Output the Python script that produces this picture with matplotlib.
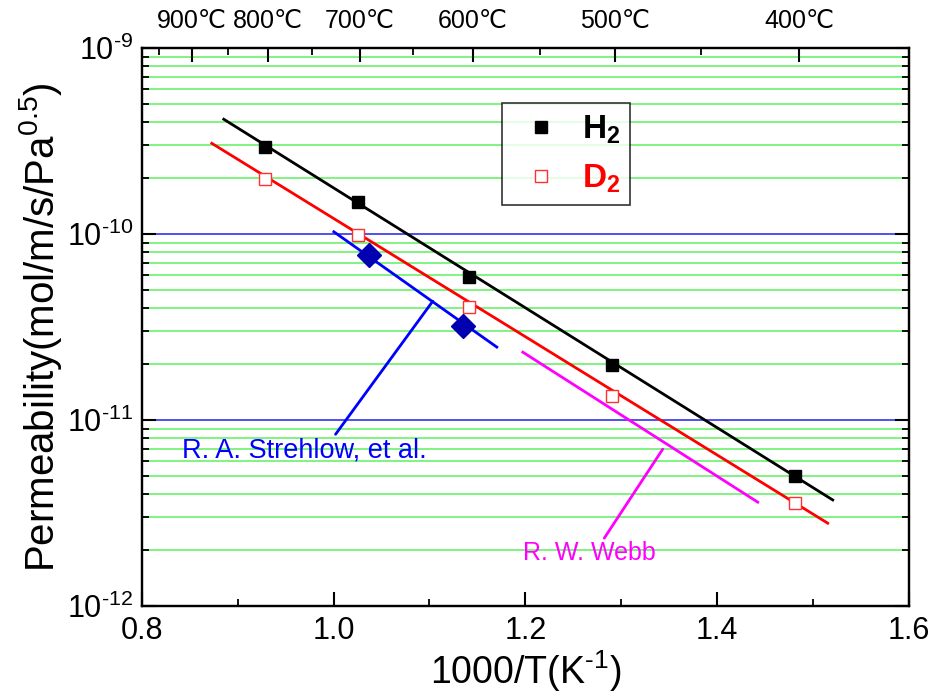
import numpy as np
import matplotlib
matplotlib.use("Agg")
import matplotlib.pyplot as plt
from matplotlib.ticker import FixedLocator, LogLocator, NullFormatter, FuncFormatter

plt.rcParams['font.family'] = ['Liberation Sans', 'DejaVu Sans']
plt.rcParams['mathtext.fontset'] = 'custom'
plt.rcParams['mathtext.rm'] = 'Liberation Sans'
plt.rcParams['mathtext.it'] = 'Liberation Sans:italic'
plt.rcParams['mathtext.bf'] = 'Liberation Sans:bold'

# ---- data ----
h2_x = [0.929, 1.025, 1.141, 1.290, 1.481]
h2_y = [2.94e-10, 1.49e-10, 5.87e-11, 1.98e-11, 5.0e-12]
d2_x = [0.929, 1.025, 1.141, 1.290, 1.481]
d2_y = [1.98e-10, 9.9e-11, 4.06e-11, 1.35e-11, 3.58e-12]
h2_fit_x = [0.8855, 1.5207]
h2_fit_y = [4.15e-10, 3.72e-12]
d2_fit_x = [0.873, 1.5155]
d2_fit_y = [3.08e-10, 2.79e-12]
strehlow_x = [1.0003, 1.1703]
strehlow_y = [1.03e-10, 2.47e-11]
strehlow_pts_x = [1.0368, 1.1348]
strehlow_pts_y = [7.7e-11, 3.2e-11]
webb_x = [1.1974, 1.4425]
webb_y = [2.32e-11, 3.62e-12]
temps_major = [900, 800, 700, 600, 500, 400]
temps_minor = [950, 850, 750, 650, 550, 450]
yticks = [1e-12, 1e-11, 1e-10, 1e-9]

fig = plt.figure(figsize=(9.33, 6.99), dpi=100)
ax = fig.add_axes([0.152, 0.133, 0.822, 0.798])
ax.set_yscale('log')
ax.set_xlim(0.8, 1.6)
ax.set_ylim(1e-12, 1e-9)

# grid
ax.yaxis.set_major_locator(FixedLocator(yticks))
ax.yaxis.set_minor_locator(LogLocator(base=10, subs=np.arange(2, 10)))
ax.yaxis.set_minor_formatter(NullFormatter())
ax.yaxis.set_major_formatter(FuncFormatter(
    lambda v, p: r'$10^{\text{-%d}}$' % int(round(-np.log10(v)))))
ax.grid(which='minor', axis='y', color='#5ef05e', lw=1.1, zorder=0)
ax.grid(which='major', axis='y', color='#2020ee', lw=1.1, zorder=0)
ax.set_axisbelow(True)

ax.set_xticks([0.8, 1.0, 1.2, 1.4, 1.6])
ax.set_xticks(np.arange(0.9, 1.6, 0.2), minor=True)
ax.xaxis.set_major_formatter(FuncFormatter(lambda v, p: '%.1f' % v))

ax.tick_params(axis='both', which='major', direction='in', length=10, width=1.5, labelsize=22)
ax.tick_params(axis='both', which='minor', direction='in', length=5, width=1.3)
ax.tick_params(axis='y', which='both', right=True)
ax.tick_params(axis='x', which='major', pad=7)
ax.tick_params(axis='y', which='major', pad=6)
for s in ax.spines.values():
    s.set_linewidth(1.6)

# lines
ax.plot(h2_fit_x, h2_fit_y, color='black', lw=2, zorder=3)
ax.plot(d2_fit_x, d2_fit_y, color='#ff0000', lw=2, zorder=3)
ax.plot(strehlow_x, strehlow_y, color='#0000ff', lw=2, zorder=3)
ax.plot(webb_x, webb_y, color='#ff00ff', lw=2, zorder=3)

hp, = ax.plot(h2_x, h2_y, ls='none', marker='s', ms=9, color='black', zorder=4)
dp, = ax.plot(d2_x, d2_y, ls='none', marker='s', ms=9, mfc='white', mec='#ff3030', mew=1.0, zorder=4)
ax.plot(strehlow_pts_x, strehlow_pts_y, ls='none', marker='D', ms=12, color='#0000b0', zorder=5)

# annotations
ax.annotate('R. A. Strehlow, et al.', xy=(1.1035, 4.36e-11), xytext=(0.8417, 6.9e-12),
            color='#0000ff', fontsize=19.5, va='center', ha='left',
            arrowprops=dict(arrowstyle='-', color='#0000ff', lw=2, shrinkA=0, shrinkB=0,
                            relpos=(0.62, 1.0)))
ax.annotate('R. W. Webb', xy=(1.3434, 6.98e-12), xytext=(1.1974, 1.93e-12),
            color='#ff00ff', fontsize=18, va='center', ha='left',
            arrowprops=dict(arrowstyle='-', color='#ff00ff', lw=2, shrinkA=0, shrinkB=0,
                            relpos=(0.6, 1.0)))

# legend
leg = ax.legend([hp, dp], [r'$\mathbf{H_2}$', r'$\mathbf{D_2}$'], loc='upper left',
                bbox_to_anchor=(0.469, 0.901), frameon=True, fancybox=False,
                edgecolor='black', fontsize=24, handletextpad=0.35, borderpad=0.3,
                handlelength=1.75, labelspacing=0.5, borderaxespad=0)
leg.get_frame().set_linewidth(1.2)
leg.get_texts()[1].set_color('#ff0000')

ax.set_xlabel(r'1000/T(K$^{\text{-1}}$)', fontsize=27, labelpad=2)
ax.set_ylabel(r'Permeability(mol/m/s/Pa$^{0.5}$)', fontsize=29, labelpad=2)

# top temperature axis
top = ax.twiny()
top.set_xlim(ax.get_xlim())
top.set_xticks([1000.0 / (t + 273.15) for t in temps_major])
top.set_xticklabels(['%d\u2103' % t for t in temps_major])
top.set_xticks([1000.0 / (t + 273.15) for t in temps_minor], minor=True)
top.tick_params(axis='x', which='major', direction='in', length=10, width=1.5, labelsize=18, pad=11)
top.tick_params(axis='x', which='minor', direction='in', length=5, width=1.3)
for s in top.spines.values():
    s.set_linewidth(1.6)

fig.savefig('out.png', dpi=100)
